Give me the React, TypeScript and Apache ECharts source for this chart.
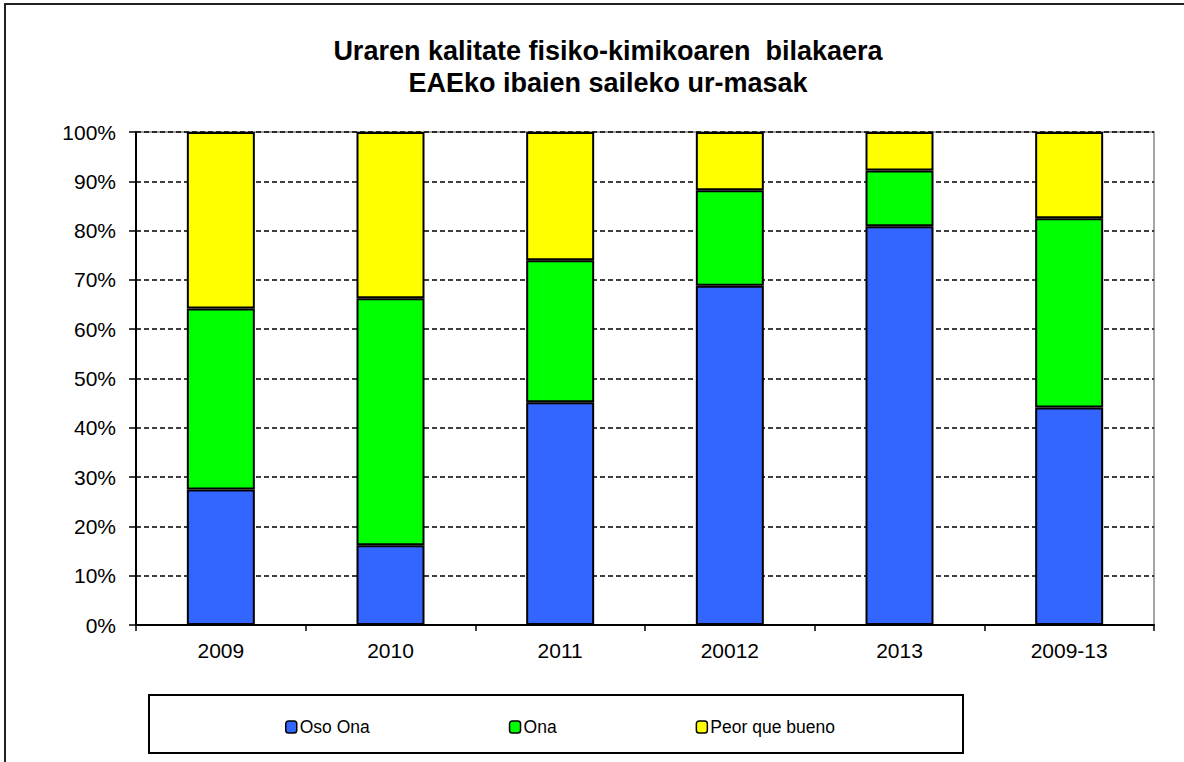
import React, { useEffect, useRef } from "react";
import * as echarts from "echarts";

const categories = ["2009", "2010", "2011", "20012", "2013", "2009-13"];
const osoOna = [27.5, 16.2, 45.2, 68.8, 80.9, 44.1];
const ona = [36.7, 50.1, 28.8, 19.4, 11.3, 38.4];
const peorQueBueno = [35.8, 33.7, 26.0, 11.8, 7.8, 17.5];
const seriesNames = ["Oso Ona", "Ona", "Peor que bueno"];
const seriesColors = ["#3366FF", "#00FF00", "#FFFF00"];
const titleLines = ["Uraren kalitate fisiko-kimikoaren  bilakaera", "EAEko ibaien saileko ur-masak"];

const FONT = "'Liberation Sans', Arial, sans-serif";

export default function App() {
  const ref = useRef<HTMLDivElement>(null);
  useEffect(() => {
    if (!ref.current) return;
    const chart = echarts.init(ref.current, null, { renderer: "svg" });
    const data = [osoOna, ona, peorQueBueno];
    chart.setOption({
      animation: false,
      backgroundColor: "#ffffff",
      textStyle: { fontFamily: FONT },
      grid: {
        left: 136,
        right: 30,
        top: 132,
        bottom: 137,
        show: true,
        borderColor: "#888888",
        borderWidth: 1.5,
      },
      graphic: [
        {
          type: "rect",
          shape: { x: 5, y: 4, width: 1200, height: 800 },
          style: { fill: "none", stroke: "#222", lineWidth: 2 },
          silent: true,
        },
        {
          type: "rect",
          shape: { x: 149, y: 695, width: 814, height: 58 },
          style: { fill: "none", stroke: "#000", lineWidth: 2 },
          silent: true,
        },
        {
          type: "text",
          x: 608,
          y: 51,
          style: {
            text: titleLines[0],
            fontFamily: FONT,
            fontWeight: "bold",
            fontSize: 27,
            fill: "#000",
            textAlign: "center",
            textVerticalAlign: "middle",
          },
        },
        {
          type: "text",
          x: 608,
          y: 83,
          style: {
            text: titleLines[1],
            fontFamily: FONT,
            fontWeight: "bold",
            fontSize: 27,
            fill: "#000",
            textAlign: "center",
            textVerticalAlign: "middle",
          },
        },
      ],
      legend: {
        left: 280,
        top: 713,
        itemGap: 139,
        itemWidth: 11,
        itemHeight: 12,
        itemStyle: { borderColor: "#000", borderWidth: 1.5 },
        textStyle: { fontFamily: FONT, fontSize: 17.5, color: "#000", padding: [0, 0, 0, -2] },
        data: seriesNames,
      },
      xAxis: {
        type: "category",
        data: categories,
        axisLine: { show: true, lineStyle: { color: "#000", width: 2 } },
        axisTick: { show: true, length: 6, lineStyle: { color: "#000", width: 1.5 } },
        axisLabel: { fontFamily: FONT, fontSize: 21, color: "#000", margin: 15 },
      },
      yAxis: {
        type: "value",
        min: 0,
        max: 100,
        interval: 10,
        axisLine: { show: true, lineStyle: { color: "#000", width: 2 } },
        axisTick: { show: true, length: 7, lineStyle: { color: "#000", width: 1.5 } },
        axisLabel: { fontFamily: FONT, fontSize: 21, color: "#000", margin: 20, formatter: "{value}%" },
        splitLine: { show: true, lineStyle: { color: "#000", width: 1.5, type: [5, 3] } },
      },
      series: seriesNames.map((name, i) => ({
        name,
        type: "bar",
        stack: "total",
        barWidth: 68,
        data: data[i],
        itemStyle: { color: seriesColors[i], borderColor: "#000", borderWidth: 2 },
      })),
    });
    return () => chart.dispose();
  }, []);
  return (
    <div
      ref={ref}
      style={{ position: "fixed", left: 0, top: 0, width: 1184, height: 762 }}
    />
  );
}
